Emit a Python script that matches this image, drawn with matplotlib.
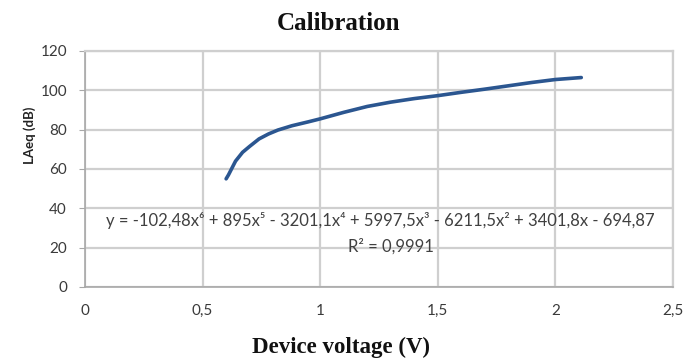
import matplotlib
matplotlib.use("Agg")
import matplotlib.pyplot as plt

voltage = [0.60, 0.61, 0.625, 0.64, 0.67, 0.70, 0.74, 0.78, 0.82, 0.88, 0.95, 1.0,
           1.1, 1.2, 1.3, 1.4, 1.5, 1.6, 1.7, 1.8, 1.9, 2.0, 2.11]
laeq = [55.0, 57.0, 60.5, 64.0, 68.5, 71.5, 75.3, 77.8, 79.8, 82.0, 84.0, 85.5,
        88.8, 91.8, 94.0, 95.8, 97.3, 99.0, 100.6, 102.3, 104.0, 105.5, 106.5]
x_ticks = [0, 0.5, 1, 1.5, 2, 2.5]
x_tick_labels = ["0", "0,5", "1", "1,5", "2", "2,5"]
y_ticks = [0, 20, 40, 60, 80, 100, 120]
equation = "y = -102,48x\u2076 + 895x\u2075 - 3201,1x\u2074 + 5997,5x\u00b3 - 6211,5x\u00b2 + 3401,8x - 694,87"
r2 = "R\u00b2 = 0,9991"

fig = plt.figure(figsize=(6.87, 3.6), dpi=100)
ax = fig.add_axes([85/687, 1-287/360, (673-85)/687, (287-51)/360])

ax.plot(voltage, laeq, color="#2b5690", lw=2.6, solid_capstyle="round")

ax.set_xlim(0, 2.5)
ax.set_ylim(0, 120)
ax.set_xticks(x_ticks)
ax.set_xticklabels(x_tick_labels)
ax.set_yticks(y_ticks)
ax.grid(True, color="#cfcfcf", lw=1.6)
ax.set_axisbelow(True)
for s in ["top", "right"]:
    ax.spines[s].set_color("#cfcfcf")
    ax.spines[s].set_linewidth(1.6)
for s in ["left", "bottom"]:
    ax.spines[s].set_color("#a8a8a8")
    ax.spines[s].set_linewidth(1.2)
ax.tick_params(axis="y", length=4, color="#a8a8a8", labelsize=11, labelcolor="#3a3a3a", pad=9)
ax.tick_params(axis="x", length=0, labelsize=11, labelcolor="#3a3a3a", pad=12)
for lab in ax.get_xticklabels() + ax.get_yticklabels():
    lab.set_family(["Lato", "DejaVu Sans"])

ax.text(1.255, 33.6, equation, ha="center", va="center", fontsize=12,
        color="#404040", family=["Lato", "DejaVu Sans"])
ax.text(1.30, 20.4, r2, ha="center", va="center", fontsize=12,
        color="#404040", family=["Lato", "DejaVu Sans"])

fig.text(339/687, 1-23/360, "Calibration", ha="center", va="center",
         fontsize=18, fontweight="bold", family="Liberation Serif", color="#111111")
fig.text(341/687, 1-347/360, "Device voltage (V)", ha="center", va="center",
         fontsize=16.5, fontweight="bold", family="Liberation Serif", color="#111111")
fig.text(30/687, 1-135/360, "LAeq (dB)", ha="center", va="center", rotation=90,
         fontsize=9.5, fontweight="bold", family=["Lato", "DejaVu Sans"], color="#222222")

fig.savefig("out.png", dpi=100)
